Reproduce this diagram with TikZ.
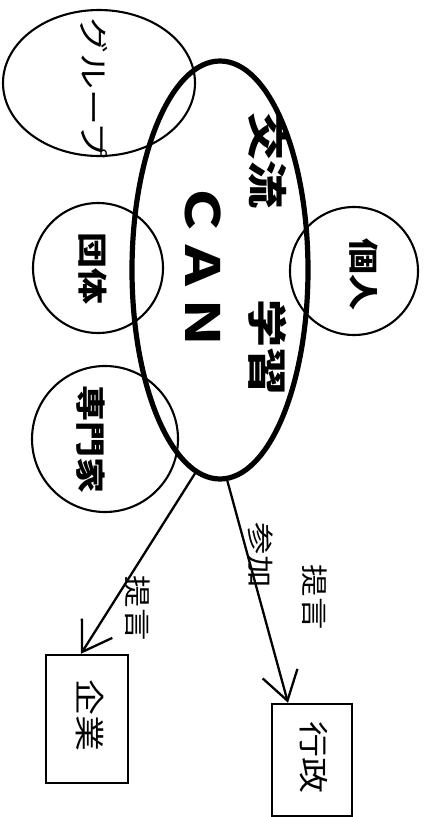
\documentclass[tikz,border=0pt]{standalone}
\usepackage{fontspec}
\newfontfamily\jpfont{Noto Sans CJK JP}
\usetikzlibrary{shapes.geometric,arrows.meta}
\tikzset{
	bigoval/.style={draw=black, ellipse, line width=5.2pt, inner sep=0pt},
	member/.style={draw=black, line width=2.1pt, inner sep=0pt},
	office/.style={draw=black, rectangle, line width=2.5pt, inner sep=0pt},
	jtext/.style={rotate=-90, xscale=1.2, inner sep=0pt},
	jsize/.style={font=\jpfont\fontsize{#1pt}{#1pt}\selectfont},
	jbold/.style={font=\jpfont\bfseries\fontsize{#1pt}{#1pt}\selectfont},
	proposal/.style={draw=black, line width=2.3pt,
		-{Straight Barb[length=28pt,width=36pt]}},
}

\begin{document}
\begin{tikzpicture}[x=1pt, y=-1pt]
	\useasboundingbox (0,0) rectangle (424,817);
	% the network and its members
	\node[bigoval, minimum width=176pt, minimum height=418pt] (can) at (220,270) {};
	\node[member, ellipse, minimum width=192pt, minimum height=146pt] (group) at (99,83) {};
	\node[member, circle, minimum size=130pt] (dantai) at (98,268) {};
	\node[member, circle, minimum size=128pt] (kojin) at (354,271) {};
	\node[member, circle, minimum size=146pt] (senmon) at (105,439) {};
	\node[jtext, jsize=30] (grouptext) at (94,88) {グループ};
	\node[jtext, jbold=30] (dantaitext) at (93,268) {団体};
	\node[jtext, jbold=30] (kojintext) at (364,274) {個人};
	\node[jtext, jbold=30] (senmontext) at (91,439) {専門家};
	\node[jtext, jbold=40] (koryu) at (268,160) {交流};
	\node[jtext, jbold=40] (gakushu) at (268,347) {学習};
	\node[jtext, jbold=47] (cantext) at (203,266) {ＣＡＮ};
	% companies and government
	\node[office, minimum width=82pt, minimum height=128pt] (kigyo) at (87,719) {};
	\node[office, minimum width=80pt, minimum height=112pt] (gyosei) at (312,760) {};
	\node[jtext, jsize=30] (kigyotext) at (90,715) {企業};
	\node[jtext, jsize=30] (gyoseitext) at (314,757) {行政};
	\draw[proposal] (can.263) -- ([xshift=-6pt]kigyo.north);
	\draw[proposal] (can.272) -- ([xshift=-24pt]gyosei.north);
	\node[jtext, jsize=27] (teigen1) at (138,608) {提言};
	\node[jtext, jsize=27] (sanka) at (261,555) {参加};
	\node[jtext, jsize=27] (teigen2) at (315,597) {提言};
\end{tikzpicture}
\end{document}
